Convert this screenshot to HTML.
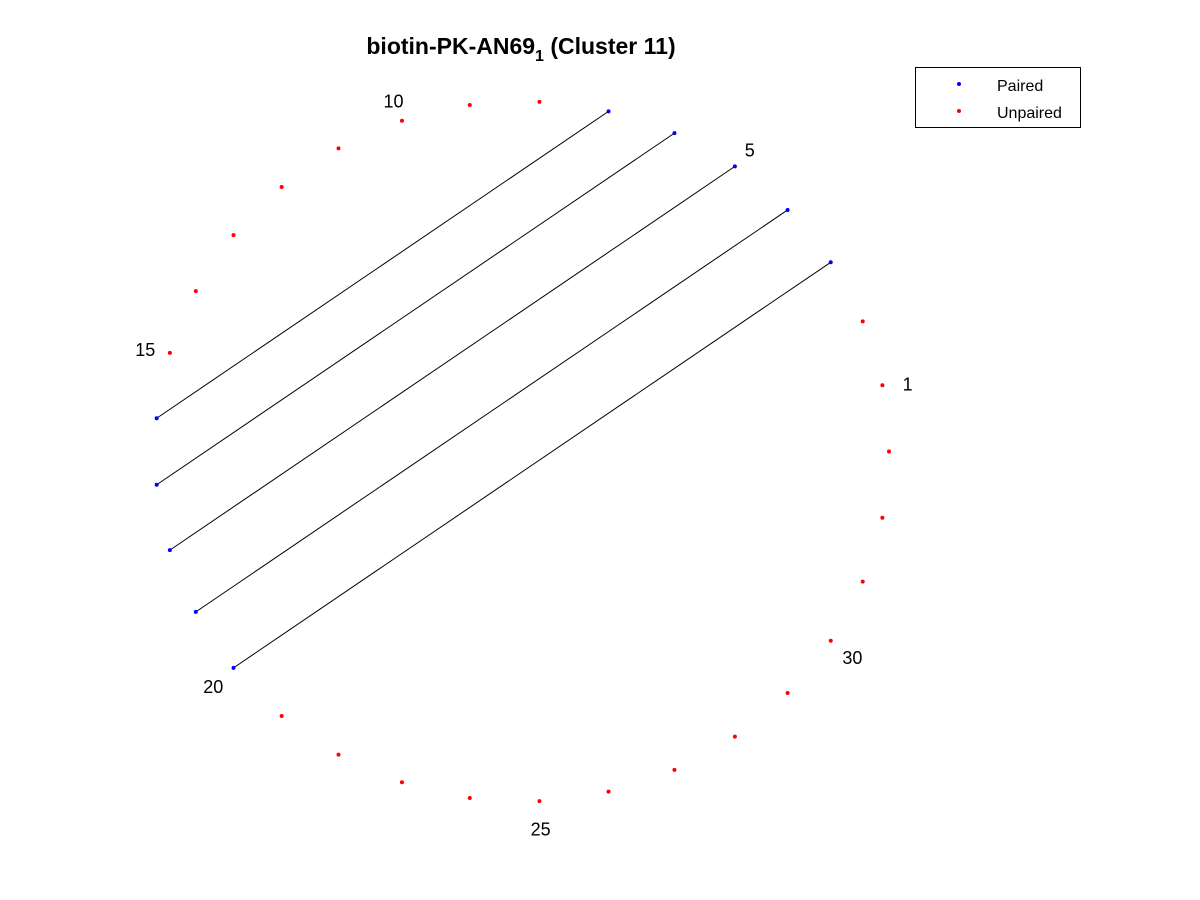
<!DOCTYPE html>
<html><head><meta charset="utf-8"><style>
html,body{margin:0;padding:0;background:#fff;}
svg{display:block;font-family:"Liberation Sans",Arial,sans-serif;}
</style></head><body>
<svg id="chart" width="1200" height="900" viewBox="0 0 1200 900">
<rect width="1200" height="900" fill="#fff"/>
<text x="521" y="54" text-anchor="middle" font-size="23" font-weight="bold">biotin-PK-AN69<tspan dy="7" font-size="16">1</tspan><tspan dy="-7"> (Cluster 11)</tspan></text>
<g id="links"></g>
<g id="pts"></g>
<g id="lbls"></g>
<g>
<rect x="915.5" y="67.5" width="165" height="60" fill="#fff" stroke="#000" stroke-width="1"/>
<circle cx="959" cy="84" r="2" fill="#00f"/>
<text x="997" y="91" font-size="16">Paired</text>
<circle cx="959" cy="111" r="2" fill="#f00"/>
<text x="997" y="118" font-size="16">Unpaired</text>
</g>
</svg>
<script>
const nPositions = 33;
const pairsA = [3, 4, 5, 6, 7];
const pairsB = [20, 19, 18, 17, 16];
const labeledPositions = [1, 5, 10, 15, 20, 25, 30];

const cx = 522, cy = 451.5, rx = 367, ry = 350;
const NS = "http://www.w3.org/2000/svg";
function ang(k){ return 2*Math.PI*k/nPositions; }
function px(k, f){ return cx + rx*(f||1)*Math.cos(ang(k)); }
function py(k, f){ return cy - ry*(f||1)*Math.sin(ang(k)); }

const paired = new Set(pairsA.concat(pairsB));
const links = document.getElementById('links');
for (let i = 0; i < pairsA.length; i++) {
  const l = document.createElementNS(NS, 'line');
  
  
  l.setAttribute('x1', px(pairsA[i])); l.setAttribute('y1', py(pairsA[i]));
  l.setAttribute('x2', px(pairsB[i])); l.setAttribute('y2', py(pairsB[i]));
  l.setAttribute('stroke', '#000'); l.setAttribute('stroke-width', '1');
  links.appendChild(l);
}
const pts = document.getElementById('pts');
for (let k = 1; k <= nPositions; k++) {
  const c = document.createElementNS(NS, 'circle');
  
  
  c.setAttribute('cx', px(k)); c.setAttribute('cy', py(k)); c.setAttribute('r', '2');
  c.setAttribute('fill', paired.has(k) ? '#00f' : '#f00');
  pts.appendChild(c);
}
const lbls = document.getElementById('lbls');
labeledPositions.forEach(k => {
  const t = document.createElementNS(NS, 'text');
  
  
  t.setAttribute('x', px(k, 1.07)); t.setAttribute('y', py(k, 1.07) + 10);
  t.setAttribute('text-anchor', 'middle'); t.setAttribute('font-size', '18');
  t.textContent = k;
  lbls.appendChild(t);
});
</script>
</body></html>
